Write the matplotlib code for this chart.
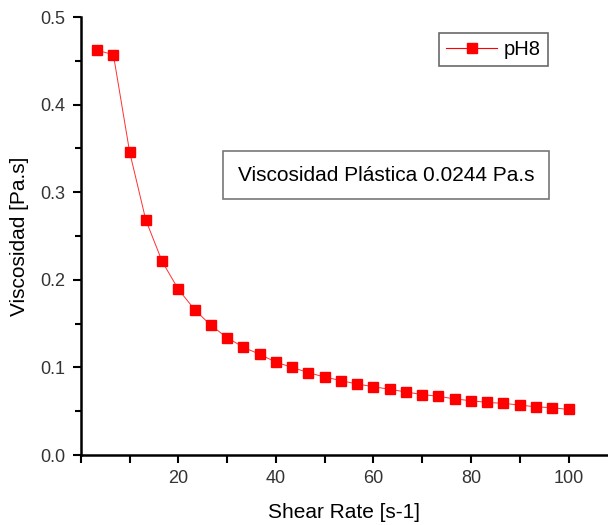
import matplotlib
matplotlib.use("Agg")
import matplotlib.pyplot as plt
from matplotlib.ticker import MultipleLocator

plt.rcParams["font.family"] = ["Liberation Sans", "DejaVu Sans"]

# Shear rate [s-1] and viscosity [Pa.s]
shear_rate = [3.33, 6.67, 10.0, 13.33, 16.67, 20.0, 23.33, 26.67, 30.0, 33.33,
              36.67, 40.0, 43.33, 46.67, 50.0, 53.33, 56.67, 60.0, 63.33, 66.67,
              70.0, 73.33, 76.67, 80.0, 83.33, 86.67, 90.0, 93.33, 96.67, 100.0]
viscosity = [0.462, 0.457, 0.346, 0.268, 0.221, 0.189, 0.166, 0.148, 0.134, 0.123,
             0.115, 0.106, 0.100, 0.094, 0.089, 0.085, 0.081, 0.078, 0.075, 0.072,
             0.069, 0.067, 0.064, 0.062, 0.060, 0.059, 0.057, 0.055, 0.054, 0.052]
series_name = "pH8"
note = "Viscosidad Plástica 0.0244 Pa.s"

fig = plt.figure(figsize=(6.08, 5.25), dpi=100)
ax = fig.add_axes([0.133, 0.1333, 0.867, 0.8343])

# thin connecting line, then the square markers on top
ax.plot(shear_rate, viscosity, color="#ff3030", linewidth=0.7, zorder=2)
ax.plot(shear_rate, viscosity, linestyle="none", marker="s", markersize=7,
        color="red", zorder=3)

# legend proxy
ax.plot([], [], color="red", linewidth=0.8, marker="s", markersize=7, label=series_name)
leg = ax.legend(loc="upper right", bbox_to_anchor=(0.886, 0.963), fontsize=14.5,
                frameon=True, fancybox=False, handlelength=2.5, borderpad=0.35,
                handletextpad=0.35, borderaxespad=0)
leg.get_frame().set_edgecolor("#444444")
leg.get_frame().set_linewidth(1.2)

ax.text(0.579, 0.639, note, transform=ax.transAxes, ha="center", va="center",
        fontsize=15,
        bbox=dict(boxstyle="square,pad=0.7", facecolor="white",
                  edgecolor="#777777", linewidth=1.2))

ax.set_xlim(0, 108.1)
ax.set_ylim(0, 0.5)
ax.xaxis.set_major_locator(MultipleLocator(20))
ax.xaxis.set_minor_locator(MultipleLocator(10))
ax.yaxis.set_major_locator(MultipleLocator(0.1))
ax.yaxis.set_minor_locator(MultipleLocator(0.05))
ax.set_xticks([20, 40, 60, 80, 100])
ax.set_yticks([0.0, 0.1, 0.2, 0.3, 0.4, 0.5])
ax.set_yticklabels(["0.0", "0.1", "0.2", "0.3", "0.4", "0.5"])

for side in ["top", "right"]:
    ax.spines[side].set_visible(False)
for side in ["left", "bottom"]:
    ax.spines[side].set_linewidth(1.8)

ax.tick_params(which="major", direction="out", length=6, width=1.5,
               labelsize=13, colors="black", labelcolor="#333333", pad=5)
ax.tick_params(which="minor", direction="out", length=4, width=1.5)
ax.tick_params(axis="x", which="minor", length=6)

ax.set_xlabel("Shear Rate [s-1]", fontsize=15, labelpad=11)
ax.set_ylabel("Viscosidad [Pa.s]", fontsize=15, labelpad=8)

fig.savefig("out.png", dpi=100)
